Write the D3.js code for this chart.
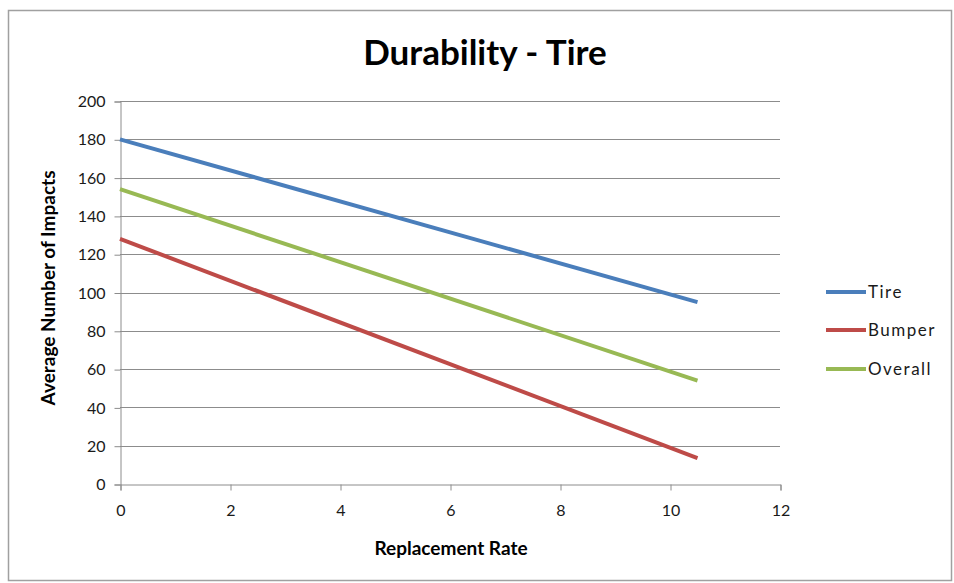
<!DOCTYPE html>
<html><head><meta charset="utf-8">
<script src="https://cdn.jsdelivr.net/npm/d3@7"></script>
<style>body{margin:0;background:#fff}svg{display:block}text{font-family:Lato,"Open Sans",sans-serif}</style>
</head><body><div id="c"></div>
<script>
const seriesNames = ["Tire", "Bumper", "Overall"];
const xValues = [0, 10.5];
const tireValues = [180, 95];
const bumperValues = [128, 13.5];
const overallValues = [154, 54];
const colors = ["#4A7EBB", "#BE4B48", "#98B954"];
const xTicks = [0, 2, 4, 6, 8, 10, 12];
const yTicks = [0, 20, 40, 60, 80, 100, 120, 140, 160, 180, 200];

const W = 954, H = 583;
const svg = d3.select("#c").append("svg").attr("width", W).attr("height", H);
svg.append("rect").attr("x", 8.5).attr("y", 10.5).attr("width", 943).attr("height", 570)
  .attr("fill", "#fff").attr("stroke", "#a0a0a0").attr("stroke-width", 1.5);

const x = d3.scaleLinear().domain([0, 12]).range([120, 780]);
const y = d3.scaleLinear().domain([0, 200]).range([484, 101]);

// gridlines
svg.append("g").selectAll("line").data(yTicks.filter(d => d > 0)).join("line")
  .attr("x1", x(0)).attr("x2", x(12)).attr("y1", d => Math.round(y(d)) + 0.5).attr("y2", d => Math.round(y(d)) + 0.5)
  .attr("stroke", "#8c8c8c").attr("stroke-width", 1);

// y axis
const ya = svg.append("g").attr("transform", `translate(${x(0) + 0.5},0.5)`)
  .call(d3.axisLeft(y).tickValues(yTicks).tickSize(6).tickPadding(9));
ya.select(".domain").attr("stroke", "#8c8c8c");
ya.selectAll(".tick line").attr("stroke", "#8c8c8c");
ya.selectAll(".tick text").attr("font-size", 16).attr("fill", "#1a1a1a").style("font-family", "Lato,sans-serif");

// x axis
const xa = svg.append("g").attr("transform", `translate(0.5,${Math.round(y(0)) + 0.5})`)
  .call(d3.axisBottom(x).tickValues(xTicks).tickSize(6).tickPadding(14));
xa.select(".domain").attr("stroke", "#8c8c8c");
xa.selectAll(".tick line").attr("stroke", "#8c8c8c");
xa.selectAll(".tick text").attr("font-size", 16).attr("fill", "#1a1a1a").style("font-family", "Lato,sans-serif");

// lines
const series = [tireValues, bumperValues, overallValues];
const line = d3.line().x((d, i) => x(xValues[i])).y(d => y(d));
series.forEach((vals, i) => {
  svg.append("path").datum(vals).attr("d", line).attr("fill", "none")
    .attr("stroke", colors[i]).attr("stroke-width", 4);
});

// title
svg.append("text").attr("x", 485).attr("y", 65).attr("text-anchor", "middle")
  .attr("font-size", 35).attr("font-weight", "bold").attr("fill", "#000").text("Durability - Tire");

// axis titles
svg.append("text").attr("x", 451).attr("y", 555).attr("text-anchor", "middle")
  .attr("font-size", 19).attr("font-weight", "bold").attr("fill", "#000").text("Replacement Rate");
svg.append("text").attr("transform", "translate(55,288) rotate(-90)").attr("text-anchor", "middle")
  .attr("font-size", 19).attr("font-weight", "bold").attr("fill", "#000").text("Average Number of Impacts");

// legend
const legY = [292, 330, 369];
seriesNames.forEach((n, i) => {
  svg.append("line").attr("x1", 826).attr("x2", 866).attr("y1", legY[i]).attr("y2", legY[i])
    .attr("stroke", colors[i]).attr("stroke-width", 4);
  svg.append("text").attr("x", 868).attr("y", legY[i] + 6).attr("font-size", 17)
    .attr("letter-spacing", 1.5).attr("fill", "#1a1a1a").text(n);
});
</script></body></html>
